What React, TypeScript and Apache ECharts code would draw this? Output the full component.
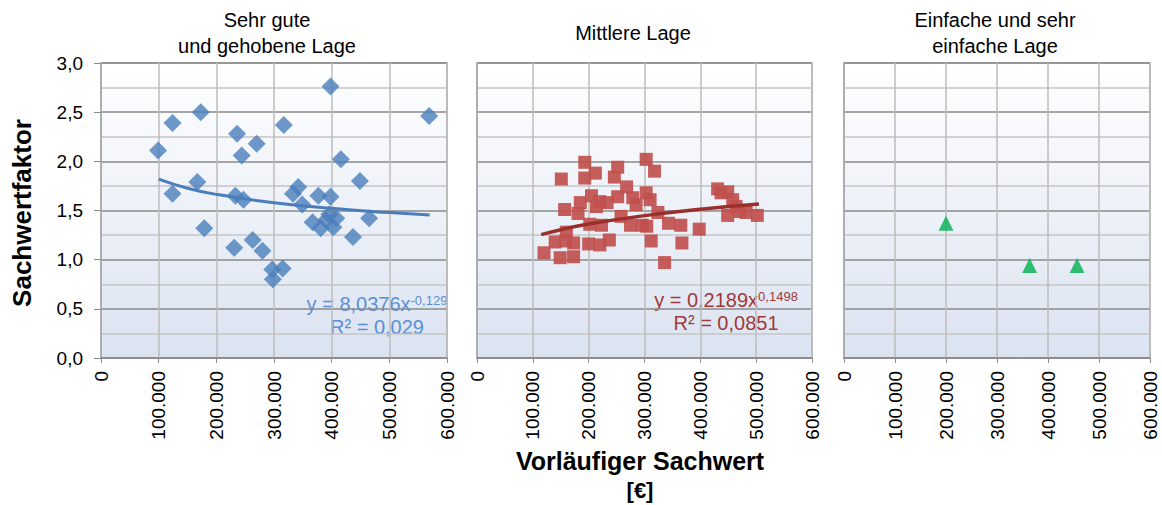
import React, { useEffect, useRef } from "react";
import * as echarts from "echarts";

// ---------- DATA ----------
const PANEL_TITLES = ["Sehr gute\nund gehobene Lage", "Mittlere Lage", "Einfache und sehr\neinfache Lage"];
const Y_TITLE = "Sachwertfaktor";
const X_TITLE = ["Vorläufiger Sachwert", "[€]"];

// Panel 1: Sehr gute und gehobene Lage (diamonds)
const P1_X = [99000, 124000, 173000, 124000, 167000, 179000, 236000, 244000, 270000, 233000, 247000, 231000, 263000, 280000, 297000, 298000, 315000, 317000, 398000, 569000, 416000, 449000, 342000, 333000, 349000, 377000, 398000, 367000, 381000, 396000, 408000, 403000, 437000, 465000, 390000];
const P1_Y = [2.11, 2.39, 2.5, 1.67, 1.79, 1.32, 2.28, 2.06, 2.18, 1.65, 1.61, 1.12, 1.2, 1.09, 0.9, 0.8, 0.91, 2.37, 2.76, 2.46, 2.02, 1.8, 1.74, 1.67, 1.56, 1.65, 1.64, 1.38, 1.32, 1.46, 1.42, 1.33, 1.23, 1.42, 1.4];

// Panel 2: Mittlere Lage (squares)
const P2_X = [120000, 140000, 149000, 160000, 159000, 173000, 173000, 151000, 157000, 193000, 193000, 212000, 185000, 181000, 205000, 214000, 220000, 233000, 202000, 223000, 200000, 220000, 237000, 246000, 252000, 252000, 258000, 268000, 279000, 285000, 275000, 303000, 318000, 303000, 310000, 296000, 304000, 312000, 324000, 336000, 343000, 365000, 367000, 398000, 431000, 437000, 449000, 458000, 449000, 470000, 482000, 502000, 464000];
const P2_Y = [1.07, 1.18, 1.02, 1.28, 1.19, 1.17, 1.03, 1.82, 1.51, 1.99, 1.83, 1.88, 1.58, 1.47, 1.65, 1.54, 1.59, 1.58, 1.36, 1.35, 1.16, 1.15, 1.2, 1.84, 1.94, 1.64, 1.44, 1.74, 1.63, 1.56, 1.35, 2.02, 1.9, 1.68, 1.61, 1.35, 1.34, 1.19, 1.48, 0.97, 1.37, 1.35, 1.17, 1.31, 1.72, 1.68, 1.69, 1.61, 1.45, 1.49, 1.48, 1.45, 1.54];

// Panel 3: Einfache und sehr einfache Lage (triangles)
const P3_X = [200000, 364000, 457000];
const P3_Y = [1.37, 0.94, 0.94];

// Trend lines (power fits)
const T1_X = [100000, 150000, 200000, 300000, 400000, 500000, 570000];
const T1_Y = [1.82, 1.727, 1.664, 1.579, 1.522, 1.479, 1.454];
const T2_X = [115000, 150000, 200000, 300000, 400000, 505000];
const T2_Y = [1.254, 1.305, 1.363, 1.448, 1.512, 1.565];

const EQ1 = ["y = 8,0376x", "-0,129", "R² = 0,029"];
const EQ2 = ["y = 0,2189x", "0,1498", "R² = 0,0851"];

const X_MIN = 0;
const X_MAX = 600000;
const X_STEP = 100000;
const Y_MIN = 0;
const Y_MAX = 3;
const Y_STEP = 0.5;

// ---------- HELPERS ----------
const zip = (xs: number[], ys: number[]) => xs.map((x, i) => [x, ys[i]]);
const FONT = "'Liberation Sans', Arial, sans-serif";
const fmtX = (v: number) => String(Math.round(v)).replace(/\B(?=(\d{3})+(?!\d))/g, ".");
const fmtY = (v: number) => v.toFixed(1).replace(".", ",");

const GRIDS = [
  { left: 101, top: 63, width: 346, height: 295 },
  { left: 477, top: 63, width: 335, height: 295 },
  { left: 844, top: 63, width: 306, height: 295 },
];

export default function App() {
  const ref = useRef<HTMLDivElement>(null);
  useEffect(() => {
    if (!ref.current) return;
    const chart = echarts.init(ref.current, undefined, { renderer: "svg" });
    const bg = new echarts.graphic.LinearGradient(0, 0, 0, 1, [
      { offset: 0, color: "#ffffff" },
      { offset: 1, color: "#dbe3f1" },
    ]);
    const grid = GRIDS.map((g) => ({
      ...g,
      show: true,
      backgroundColor: bg,
      borderColor: "#a8a8a8",
      borderWidth: 1.5,
      containLabel: false,
    }));
    const xAxis = GRIDS.map((_, i) => ({
      type: "value",
      gridIndex: i,
      min: X_MIN,
      max: X_MAX,
      interval: X_STEP,
      axisLine: { show: true, lineStyle: { color: "#8c8c8c", width: 1.5 } },
      axisTick: { show: true, length: 5, lineStyle: { color: "#8c8c8c" } },
      axisLabel: {
        rotate: 90,
        margin: 13,
        fontSize: 19,
        fontFamily: FONT,
        color: "#000",
        formatter: fmtX,
      },
      splitLine: { show: true, lineStyle: { color: "#bcbcbc", width: 1.5 } },
    }));
    const yAxis = GRIDS.map((_, i) => ({
      type: "value",
      gridIndex: i,
      min: Y_MIN,
      max: Y_MAX,
      interval: Y_STEP,
      axisLine: { show: true, lineStyle: { color: "#a8a8a8", width: 1.5 } },
      axisTick: { show: i === 0, length: 7, lineStyle: { color: "#8c8c8c" } },
      axisLabel: {
        show: i === 0,
        margin: 18,
        fontSize: 19,
        fontFamily: FONT,
        color: "#000",
        formatter: fmtY,
      },
      splitLine: { show: true, lineStyle: { color: "#8a8a8a", width: 1.5 } },
      minorTick: { show: false, splitNumber: 2 },
      minorSplitLine: { show: true, lineStyle: { color: "#c4c4c4", width: 1.5 } },
    }));

    const eqText = (eq: string[], x: number, y: number, color: string) => ({
      type: "group",
      z: 100,
      children: [
        {
          type: "text",
          x,
          y,
          style: {
            text: `{a|${eq[0]}}{s|${eq[1]}}`,
            align: "center",
            verticalAlign: "middle",
            fill: color,
            rich: {
              a: { fontSize: 20, fontFamily: FONT, fill: color, color },
              s: { fontSize: 13, fontFamily: FONT, fill: color, color, verticalAlign: "top" },
            },
          },
        },
        {
          type: "text",
          x,
          y: y + 23,
          style: {
            text: eq[2],
            align: "center",
            verticalAlign: "middle",
            fill: color,
            font: `20px ${FONT}`,
          },
        },
      ],
    });

    const titleText = (text: string, x: number, y: number) => ({
      type: "text",
      x,
      y,
      style: {
        text,
        align: "center",
        verticalAlign: "middle",
        fill: "#000",
        font: `20px ${FONT}`,
        lineHeight: 26,
      },
    });

    const boldText = (text: string, x: number, y: number, size: number, rotation = 0) => ({
      type: "text",
      x,
      y,
      rotation,
      style: {
        text,
        align: "center",
        verticalAlign: "middle",
        fill: "#000",
        font: `bold ${size}px ${FONT}`,
      },
    });

    chart.setOption({
      animation: false,
      grid,
      xAxis,
      yAxis,
      series: [
        {
          type: "scatter",
          xAxisIndex: 0,
          yAxisIndex: 0,
          symbol: "diamond",
          symbolSize: 18,
          itemStyle: { color: "#4a7ebb" },
          data: zip(P1_X, P1_Y),
        },
        {
          type: "scatter",
          xAxisIndex: 1,
          yAxisIndex: 1,
          symbol: "rect",
          symbolSize: 13,
          itemStyle: { color: "#c0504d", opacity: 0.92 },
          data: zip(P2_X, P2_Y),
        },
        {
          type: "scatter",
          xAxisIndex: 2,
          yAxisIndex: 2,
          symbol: "triangle",
          symbolSize: 15,
          itemStyle: { color: "#00b050" },
          data: zip(P3_X, P3_Y),
        },
        {
          type: "line",
          xAxisIndex: 0,
          yAxisIndex: 0,
          smooth: true,
          showSymbol: false,
          lineStyle: { color: "#4a7ebb", width: 3 },
          data: zip(T1_X, T1_Y),
          z: 5,
        },
        {
          type: "line",
          xAxisIndex: 1,
          yAxisIndex: 1,
          smooth: true,
          showSymbol: false,
          lineStyle: { color: "#9a2f2c", width: 3.5 },
          data: zip(T2_X, T2_Y),
          z: 5,
        },
      ],
      graphic: [
        titleText(PANEL_TITLES[0], 267, 33),
        titleText(PANEL_TITLES[1], 633, 33),
        titleText(PANEL_TITLES[2], 995, 33),
        boldText(Y_TITLE, 22, 213, 26, Math.PI / 2),
        boldText(X_TITLE[0], 640, 461, 25),
        boldText(X_TITLE[1], 640, 490, 22),
        eqText(EQ1, 377, 304, "#5a8fd6"),
        eqText(EQ2, 726, 300, "#a0393a"),
      ],
    });
    return () => chart.dispose();
  }, []);
  return <div ref={ref} style={{ position: "absolute", left: 0, top: 0, width: 1162, height: 505 }} />;
}
